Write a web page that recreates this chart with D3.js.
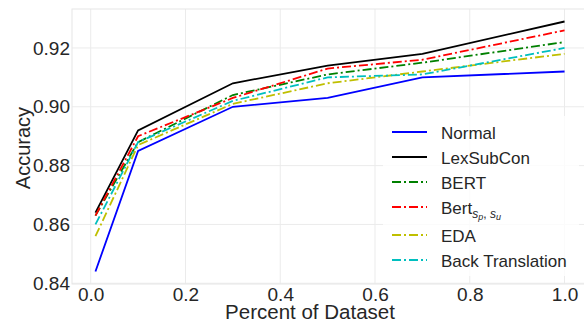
<!DOCTYPE html>
<html>
<head>
<meta charset="utf-8">
<script src="https://cdn.jsdelivr.net/npm/d3@7"></script>
<style>
  body { margin: 0; background: #fff; }
  text { font-family: "Liberation Sans", Arial, sans-serif; fill: #262626; }
</style>
</head>
<body>
<svg id="chart" width="584" height="322"></svg>
<script>
// percent of dataset used
var percents = [0.01, 0.1, 0.3, 0.5, 0.7, 1.0];

var normal     = [0.844, 0.885, 0.900, 0.903, 0.910, 0.912];
var lexsubcon  = [0.864, 0.892, 0.908, 0.914, 0.918, 0.929];
var bert       = [0.863, 0.888, 0.904, 0.911, 0.915, 0.922];
var bertSpSu   = [0.863, 0.890, 0.903, 0.913, 0.916, 0.926];
var eda        = [0.856, 0.887, 0.901, 0.908, 0.912, 0.918];
var backTrans  = [0.860, 0.888, 0.902, 0.910, 0.911, 0.920];

var xTicks = [0.0, 0.2, 0.4, 0.6, 0.8, 1.0];
var yTicks = [0.84, 0.86, 0.88, 0.90, 0.92];

var series = [
  {name: "Normal", values: normal, color: "#0000ff", dash: null},
  {name: "LexSubCon", values: lexsubcon, color: "#000000", dash: null},
  {name: "BERT", values: bert, color: "#008000", dash: "9,3,2,3"},
  {name: "Bert", values: bertSpSu, color: "#ff0000", dash: "9,3,2,3", sub: true},
  {name: "EDA", values: eda, color: "#bfbf00", dash: "9,3,2,3"},
  {name: "Back Translation", values: backTrans, color: "#00bfbf", dash: "9,3,2,3"}
];

var svg = d3.select("#chart");
var m = {left: 72, top: 9, right: 588, bottom: 284};

var x = d3.scaleLinear().domain([-0.0395, 1.0495]).range([m.left, m.right]);
var y = d3.scaleLinear().domain([0.83975, 0.93325]).range([m.bottom, m.top]);

// grid
svg.append("g").selectAll("line")
  .data(yTicks).enter().append("line")
  .attr("x1", m.left).attr("x2", m.right)
  .attr("y1", function(d) { return y(d); }).attr("y2", function(d) { return y(d); })
  .attr("stroke", "#ebebeb").attr("stroke-width", 1);
svg.append("g").selectAll("line")
  .data(xTicks).enter().append("line")
  .attr("y1", m.top).attr("y2", m.bottom)
  .attr("x1", function(d) { return x(d); }).attr("x2", function(d) { return x(d); })
  .attr("stroke", "#ebebeb").attr("stroke-width", 1);

// frame
svg.append("rect")
  .attr("x", m.left).attr("y", m.top)
  .attr("width", m.right - m.left).attr("height", m.bottom - m.top)
  .attr("fill", "none").attr("stroke", "#e6e6e6");

// axes (labels only, no tick marks)
svg.append("g")
  .attr("transform", "translate(" + m.left + ",0)")
  .call(d3.axisLeft(y).tickValues(yTicks).tickFormat(d3.format(".2f")).tickSize(0).tickPadding(2));
svg.append("g")
  .attr("transform", "translate(0," + m.bottom + ")")
  .call(d3.axisBottom(x).tickValues(xTicks).tickFormat(d3.format(".1f")).tickSize(0).tickPadding(3));
svg.selectAll(".domain").remove();
svg.selectAll(".tick text")
  .attr("font-size", 19)
  .attr("font-family", "Liberation Sans, Arial, sans-serif")
  .attr("fill", "#262626");

// axis titles
svg.append("text")
  .attr("x", 310).attr("y", 319)
  .attr("text-anchor", "middle")
  .attr("font-size", 20.5)
  .text("Percent of Dataset");
svg.append("text")
  .attr("transform", "translate(30,148) rotate(-90)")
  .attr("text-anchor", "middle")
  .attr("font-size", 20)
  .text("Accuracy");

// lines
var line = d3.line()
  .x(function(d, i) { return x(percents[i]); })
  .y(function(d) { return y(d); });

series.forEach(function(s) {
  svg.append("path")
    .datum(s.values)
    .attr("d", line)
    .attr("fill", "none")
    .attr("stroke", s.color)
    .attr("stroke-width", 1.8)
    .attr("stroke-dasharray", s.dash);
});

// legend
var legend = svg.append("g").attr("transform", "translate(383,116)");
legend.append("rect")
  .attr("width", 196).attr("height", 160)
  .attr("rx", 3)
  .attr("fill", "#fff").attr("fill-opacity", 0.8);

var yy = 16;
series.forEach(function(s, i) {
  legend.append("line")
    .attr("x1", 9).attr("x2", 44)
    .attr("y1", yy).attr("y2", yy)
    .attr("stroke", s.color).attr("stroke-width", 1.8)
    .attr("stroke-dasharray", s.dash);
  var t = legend.append("text")
    .attr("x", 58).attr("y", yy + 6.5)
    .attr("font-size", 17);
  t.append("tspan").text(s.name);
  if (s.sub) {
    t.append("tspan").attr("font-size", 12).attr("font-style", "italic").attr("dy", 4).text("s");
    t.append("tspan").attr("font-size", 9).attr("font-style", "italic").attr("dy", 2).text("p");
    t.append("tspan").attr("font-size", 12).attr("dy", -2).text(", ");
    t.append("tspan").attr("font-size", 12).attr("font-style", "italic").text("s");
    t.append("tspan").attr("font-size", 9).attr("font-style", "italic").attr("dy", 2).text("u");
  }
  yy += s.sub ? 28 : 25;
});
</script>
</body>
</html>
